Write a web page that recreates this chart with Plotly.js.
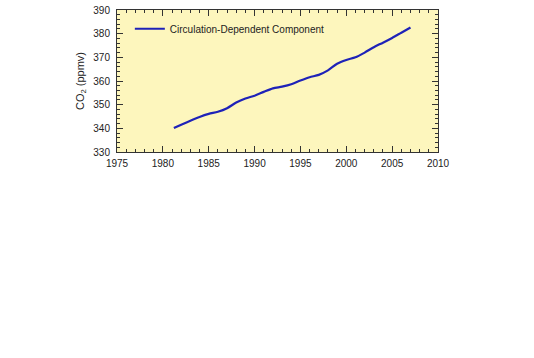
<!DOCTYPE html>
<html>
<head>
<meta charset="utf-8">
<script src="https://cdn.plot.ly/plotly-3.0.1.min.js"></script>
<style>html,body{margin:0;padding:0;background:#fff;}#chart{width:534px;height:358px;}</style>
</head>
<body>
<div id="chart"></div>
<script>
const years = [1981.2, 1982, 1983, 1984, 1985, 1986, 1987, 1988, 1989, 1990, 1991, 1992, 1993, 1994, 1995, 1996, 1997, 1998, 1999, 2000, 2001, 2002, 2003, 2004, 2005, 2006, 2007];
const co2 = [340.1, 341.5, 343.2, 344.8, 346.1, 347.0, 348.5, 350.9, 352.6, 353.8, 355.4, 356.9, 357.6, 358.6, 360.2, 361.6, 362.6, 364.5, 367.3, 368.9, 370.0, 372.0, 374.3, 376.2, 378.2, 380.4, 382.6];
const seriesName = "Circulation-Dependent Component";

const tickFont = {family: "Liberation Sans, Arial, sans-serif", size: 10, color: "#222"};
Plotly.newPlot("chart", [{
  x: years, y: co2, type: "scatter", mode: "lines", name: seriesName,
  line: {color: "#1e22b8", width: 2.2, shape: "spline", smoothing: 0.8}
}], {
  width: 534, height: 358,
  margin: {l: 117, r: 96, t: 10, b: 206, pad: 0},
  paper_bgcolor: "#ffffff",
  plot_bgcolor: "#fdf6bd",
  showlegend: true,
  legend: {x: 0.04, y: 0.97, xanchor: "left", yanchor: "top", bgcolor: "rgba(0,0,0,0)",
           font: {family: "Liberation Sans, Arial, sans-serif", size: 10, color: "#222"}},
  xaxis: {range: [1975, 2010], dtick: 5, tick0: 1975, ticks: "inside", ticklen: 6, tickcolor: "#333",
          showline: true, linecolor: "#333", linewidth: 1, mirror: "ticks", showgrid: false, zeroline: false,
          tickfont: tickFont, ticklabelstandoff: 2,
          minor: {dtick: 1, ticks: "inside", ticklen: 3, tickcolor: "#333", showgrid: false}},
  yaxis: {range: [330, 390], dtick: 10, tick0: 330, ticks: "inside", ticklen: 6, tickcolor: "#333",
          showline: true, linecolor: "#333", linewidth: 1, mirror: "ticks", showgrid: false, zeroline: false,
          tickfont: tickFont, ticklabelstandoff: 4,
          minor: {dtick: 2, ticks: "inside", ticklen: 3, tickcolor: "#333", showgrid: false},
          title: {text: "CO<sub>2</sub> (ppmv)", standoff: 6,
                  font: {family: "Liberation Sans, Arial, sans-serif", size: 11, color: "#222"}}}
}, {staticPlot: true, displayModeBar: false});
</script>
</body>
</html>
